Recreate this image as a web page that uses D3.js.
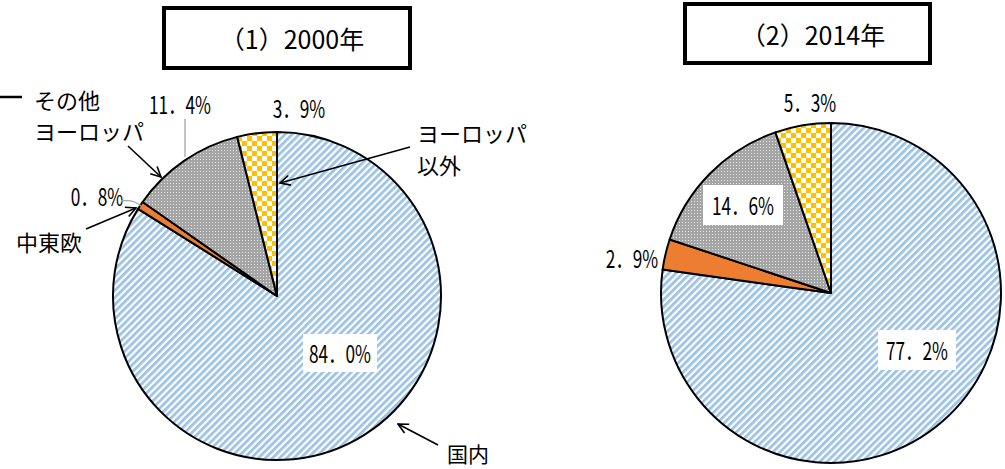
<!DOCTYPE html>
<html><head><meta charset="utf-8">
<script src="https://cdn.jsdelivr.net/npm/d3@7"></script>
<style>
html,body{margin:0;padding:0;background:#fff;}
svg{display:block;}
text{font-family:"Noto Sans CJK JP","Noto Sans",sans-serif;fill:#000;}
</style></head>
<body>
<svg id="c" width="1005" height="469"></svg>
<script>
// ---- data ----
const categories = ["国内", "中東欧", "その他ヨーロッパ", "ヨーロッパ以外"];
const years = ["（1）2000年", "（2）2014年"];
const values2000 = [84.0, 0.8, 11.4, 3.9];
const values2014 = [77.2, 2.9, 14.6, 5.3];

const svg = d3.select("#c");
const defs = svg.append("defs");

// patterns
const pStripe = defs.append("pattern").attr("id","pStripe").attr("patternUnits","userSpaceOnUse")
  .attr("width",5).attr("height",5).attr("patternTransform","rotate(45)");
pStripe.append("rect").attr("width",5).attr("height",5).attr("fill","#fff");
pStripe.append("rect").attr("width",2.8).attr("height",5).attr("fill","#9DC3E6");

const pDots = defs.append("pattern").attr("id","pDots").attr("patternUnits","userSpaceOnUse")
  .attr("width",3).attr("height",3);
pDots.append("rect").attr("width",3).attr("height",3).attr("fill","#A5A5A5");
pDots.append("rect").attr("x",1).attr("y",1).attr("width",1).attr("height",1).attr("fill","#E8E8E8");

const pCheck = defs.append("pattern").attr("id","pCheck").attr("patternUnits","userSpaceOnUse")
  .attr("width",10).attr("height",10);
pCheck.append("rect").attr("width",10).attr("height",10).attr("fill","#fff");
pCheck.append("rect").attr("width",5).attr("height",5).attr("fill","#FFC000");
pCheck.append("rect").attr("x",5).attr("y",5).attr("width",5).attr("height",5).attr("fill","#FFC000");

const fills = d3.scaleOrdinal().domain(categories)
  .range(["url(#pStripe)", "#ED7D31", "url(#pDots)", "url(#pCheck)"]);

// arrow marker (open V)
const mk = defs.append("marker").attr("id","arr").attr("viewBox","0 0 12 12")
  .attr("refX",11).attr("refY",6).attr("markerWidth",12).attr("markerHeight",12)
  .attr("markerUnits","userSpaceOnUse").attr("orient","auto");
mk.append("path").attr("d","M1,1 L11,6 L1,11").attr("fill","none").attr("stroke","#000").attr("stroke-width",1.6);

const pie = d3.pie().sort(null).value(d => d.v);
const fmt = v => d3.format(".1f")(v).replace(".", "．") + "%";

function pct(g, x, y, v, box) {
  const gg = g.append("g").attr("transform", `translate(${x},${y})`);
  if (box) gg.append("rect").attr("x",-box[0]/2).attr("y",-box[1]/2).attr("width",box[0]).attr("height",box[1]).attr("fill","#fff");
  gg.append("text").attr("transform","scale(0.72,1)").attr("text-anchor","middle")
    .attr("dominant-baseline","central").attr("font-size",24).text(fmt(v));
}

function drawPie(cx, cy, r, values) {
  const data = categories.map((c,i)=>({c, v: values[i]}));
  const arc = d3.arc().innerRadius(0).outerRadius(r);
  const g = svg.append("g").attr("transform",`translate(${cx},${cy})`);
  g.selectAll("path").data(pie(data)).join("path")
    .attr("d", arc).attr("fill", d => fills(d.data.c))
    .attr("stroke","#000").attr("stroke-width",2).attr("stroke-linejoin","round");
  return data;
}

// titles
function title(x, y, w, h, t, tx) {
  svg.append("rect").attr("x",x).attr("y",y).attr("width",w).attr("height",h)
    .attr("fill","#fff").attr("stroke","#000").attr("stroke-width",4);
  svg.append("text").attr("x",tx).attr("y",y+h/2).attr("text-anchor","middle")
    .attr("dominant-baseline","central").attr("font-size",25).text(t);
}
title(164, 8, 246, 60, years[0], 292);
title(685, 4, 245, 59, years[1], 813);

// pies
drawPie(277, 296, 164, values2000);
drawPie(831, 293, 170, values2014);

// 2000 labels
const L = svg.append("g");
pct(L, 340, 353, values2000[0], [74, 38]);
pct(L, 180, 104, values2000[2]);
pct(L, 299, 108, values2000[3]);
pct(L, 97, 196, values2000[1]);
L.append("line").attr("x1",185).attr("y1",119).attr("x2",185).attr("y2",157).attr("stroke","#A6A6A6").attr("stroke-width",1.3);
L.append("path").attr("d","M121,201 Q134,199 141,206").attr("fill","none").attr("stroke","#A6A6A6").attr("stroke-width",1.3);

L.append("line").attr("x1",0).attr("y1",97).attr("x2",22).attr("y2",97).attr("stroke","#000").attr("stroke-width",2.5);
const jt = (x,y,t,fs) => L.append("text").attr("x",x).attr("y",y).attr("dominant-baseline","central")
  .attr("font-size",fs||22).text(t);
jt(34, 99, "その他");
jt(34, 130, "ヨーロッパ");
jt(16, 241, "中東欧");
jt(417, 132, "ヨーロッパ");
jt(417, 164, "以外");
jt(447, 453, "国内", 21);

const arrow = (x1,y1,x2,y2) => L.append("line").attr("x1",x1).attr("y1",y1).attr("x2",x2).attr("y2",y2)
  .attr("stroke","#000").attr("stroke-width",1.6).attr("marker-end","url(#arr)");
arrow(128,146,161,177);
arrow(86,229,136,208);
arrow(410,147,280,183);
arrow(438,445,398,424);

// 2014 labels
pct(L, 917, 350, values2014[0], [78, 40]);
pct(L, 743, 205, values2014[2], [80, 40]);
pct(L, 810, 102, values2014[3]);
pct(L, 632, 258, values2014[1]);
</script>
</body></html>
